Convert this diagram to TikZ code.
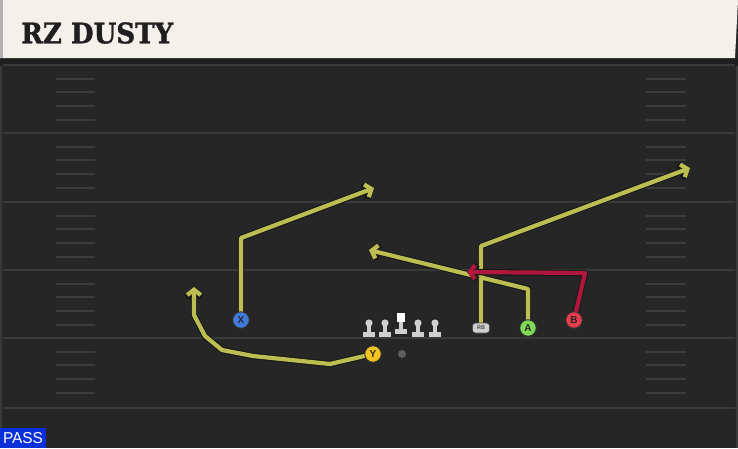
\documentclass[tikz,border=0pt]{standalone}
\usepackage{fontspec}
\setmainfont{Liberation Sans}
\newfontfamily\titlefont{DejaVu Serif}[FakeBold=1.2]
\usetikzlibrary{arrows.meta}
\definecolor{fieldc}{HTML}{262626}
\definecolor{yardc}{HTML}{3A3A3A}
\definecolor{hashc}{HTML}{3C3C3C}
\definecolor{headc}{HTML}{F4F1EA}
\definecolor{routec}{HTML}{BCBE52}
\definecolor{redroute}{HTML}{B0173C}
\definecolor{xblue}{HTML}{3E7BDA}
\definecolor{yyellow}{HTML}{F1C31C}
\definecolor{agreen}{HTML}{7FD957}
\definecolor{bred}{HTML}{E53B4B}
\definecolor{linec}{HTML}{CFCFCF}
\definecolor{passblue}{HTML}{0B2FD9}
\pgfdeclarelayer{back}
\pgfdeclarelayer{routes}
\pgfsetlayers{back,routes,main}
\tikzset{
  player/.style={circle, draw=black!80, line width=0.9pt, minimum size=16.5pt, inner sep=0pt,
    font=\bfseries\fontsize{10}{10}\selectfont, text=black!85},
  routeout/.style={draw=black!90, line width=6.4pt, line join=round,
    -{Straight Barb[length=6pt,width=15pt,line width=6.4pt]}},
  routein/.style={draw=#1, line width=4.2pt, line join=round,
    -{Straight Barb[length=5.4pt,width=13.5pt,line width=4.2pt]}},
  yard/.style={draw=yardc, line width=2pt},
  hash/.style={draw=hashc, line width=1.5pt},
  lineman/.style={fill=linec, draw=none}
}
\begin{document}
\begin{tikzpicture}[x=1pt,y=-1pt]
\useasboundingbox (0,0) rectangle (738,448);
\begin{pgfonlayer}{back}
  \fill[fieldc] (0,0) rectangle (738,448);
  \fill[black!88] (0,58) rectangle (738,66);
  % header
  \fill[headc] (0,0) -- (738,0) -- (735,58) -- (0,58) -- cycle;
  \fill[gray!60] (0,0) rectangle (3,58);
  % edges
  \draw[yardc, line width=1.5pt] (1,66) -- (1,448);
  \draw[yardc, line width=1.5pt] (737,66) -- (737,448);
  % yard lines
  \foreach \y in {65,133,202,270,338,408} \draw[yard] (3,\y) -- (735,\y);
  % hash marks
  \foreach \b in {65,133,202,270,338} {
    \foreach \d in {14,27,41,55} {
      \draw[hash] (56,\b+\d) -- (95,\b+\d);
      \draw[hash] (646,\b+\d) -- (686,\b+\d);
    }
  }
  % PASS label
  \fill[passblue] (0,428) rectangle (46,448);
\end{pgfonlayer}
\node[anchor=west, inner sep=0pt, text=black!88] (title) at (21,33) {\resizebox{152pt}{21pt}{\titlefont\bfseries RZ DUSTY}};
\node[inner sep=0pt, text=white] (pass) at (23,438.5) {\resizebox{40pt}{11pt}{PASS}};

% players
\node[player, fill=xblue] (X) at (241,320) {X};
\node[player, fill=yyellow] (Y) at (373,354) {Y};
\node[player, fill=agreen] (A) at (528,328) {A};
\node[player, fill=bred] (B) at (574,320) {B};
\node[rounded corners=3pt, fill=linec, draw=black!70, line width=0.6pt, minimum width=17pt, minimum height=10pt, inner sep=0pt,
  font=\bfseries\fontsize{5.5}{5.5}\selectfont, text=black!70] (RB) at (481,328) {RB};
\node[circle, fill=gray!75!black, minimum size=8pt, inner sep=0pt] (ball) at (402,354) {};

% linemen
\foreach \x/\n in {369/LT,385/LG,418/RG,435/RT} {
  \fill[lineman] (\x,323) circle (3.6pt);
  \fill[lineman] (\x-2.2,323) rectangle (\x+2.2,333);
  \fill[lineman] (\x-6,332) rectangle (\x+6,337);
  \coordinate (\n) at (\x,330);
}
\fill[white] (397,313) rectangle (405,322);
\fill[lineman] (398.8,322) rectangle (403.2,330);
\fill[lineman] (395,329) rectangle (407,334);
\coordinate (C) at (401,325);

% route waypoints
\coordinate (x1) at (241,238);
\coordinate (x2) at (374,188);
\coordinate (y1) at (330,364);
\coordinate (y2) at (253,356);
\coordinate (y3) at (222,350);
\coordinate (y4) at (205,336);
\coordinate (y5) at (194,315);
\coordinate (y6) at (194,287);
\coordinate (a1) at (528,289);
\coordinate (a2) at (369,250);
\coordinate (r1) at (481,246);
\coordinate (r2) at (690,168);
\coordinate (b1) at (585,273);
\coordinate (b2) at (467,272);

\begin{pgfonlayer}{routes}
  \draw[routeout] (X.center) -- (x1) -- (x2);
  \draw[routeout] (Y.center) -- (y1) -- (y2) -- (y3) -- (y4) -- (y5) -- (y6);
  \draw[routeout] (A.center) -- (a1) -- (a2);
  \draw[routeout] (RB.center) -- (r1) -- (r2);
  \draw[routein=routec] (X.center) -- (x1) -- (x2);
  \draw[routein=routec] (Y.center) -- (y1) -- (y2) -- (y3) -- (y4) -- (y5) -- (y6);
  \draw[routein=routec] (A.center) -- (a1) -- (a2);
  \draw[routein=routec] (RB.center) -- (r1) -- (r2);
  \draw[routeout] (B.center) -- (b1) -- (b2);
  \draw[routein=redroute] (B.center) -- (b1) -- (b2);
\end{pgfonlayer}
\end{tikzpicture}
\end{document}
